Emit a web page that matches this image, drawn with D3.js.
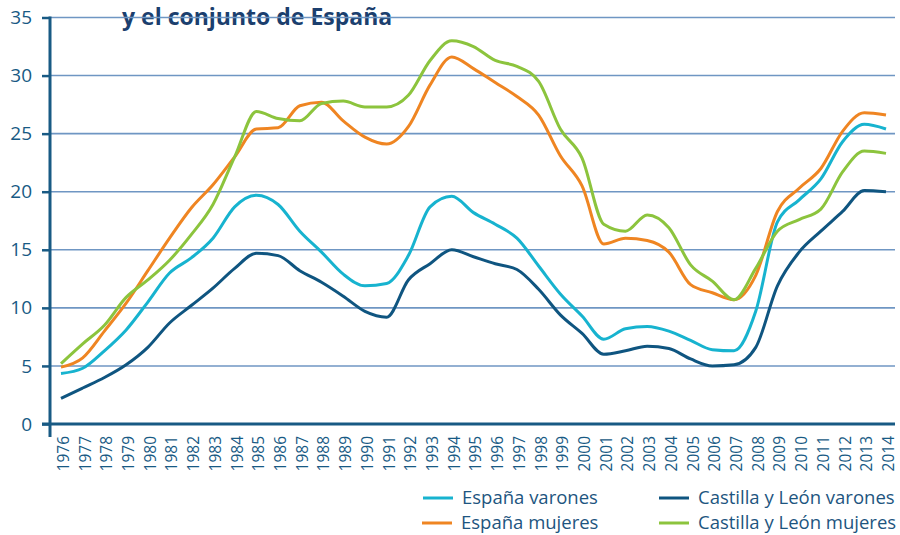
<!DOCTYPE html>
<html>
<head>
<meta charset="utf-8">
<script src="https://cdn.jsdelivr.net/npm/d3@7"></script>
<style>
  body { margin: 0; background: #fff; }
  svg { display: block; }
</style>
</head>
<body>
<script>
// tasa de paro (%) por sexo, Castilla y León vs España
const years = [1976, 1977, 1978, 1979, 1980, 1981, 1982, 1983, 1984, 1985,
  1986, 1987, 1988, 1989, 1990, 1991, 1992, 1993, 1994, 1995,
  1996, 1997, 1998, 1999, 2000, 2001, 2002, 2003, 2004, 2005,
  2006, 2007, 2008, 2009, 2010, 2011, 2012, 2013, 2014];

const espanaVarones = [4.35, 4.8, 6.3, 8.1, 10.5, 13.0, 14.3, 16.0, 18.7, 19.7,
  18.9, 16.6, 14.8, 12.9, 11.9, 12.1, 14.5, 18.7, 19.6, 18.2,
  17.2, 16.0, 13.6, 11.2, 9.3, 7.3, 8.2, 8.4, 8.0, 7.2,
  6.4, 6.3, 9.7, 17.4, 19.3, 21.1, 24.3, 25.8, 25.4];

const espanaMujeres = [4.9, 5.7, 8.0, 10.4, 13.2, 16.0, 18.6, 20.6, 23.0, 25.4,
  25.5, 27.4, 27.7, 26.1, 24.7, 24.1, 25.6, 29.2, 31.6, 30.6,
  29.4, 28.2, 26.6, 23.1, 20.5, 15.5, 16.0, 15.8, 14.8, 12.0,
  11.3, 10.7, 12.8, 18.3, 20.3, 22.0, 25.2, 26.8, 26.6];

const cylVarones = [2.2, 3.1, 4.0, 5.1, 6.6, 8.7, 10.2, 11.7, 13.4, 14.7,
  14.5, 13.2, 12.2, 11.0, 9.7, 9.2, 12.4, 13.8, 15.0, 14.4,
  13.8, 13.3, 11.6, 9.4, 7.8, 6.0, 6.3, 6.7, 6.5, 5.6,
  5.0, 5.1, 6.6, 11.9, 14.8, 16.6, 18.3, 20.1, 20.0];

const cylMujeres = [5.2, 6.9, 8.5, 10.9, 12.4, 14.1, 16.3, 18.9, 23.0, 26.9,
  26.3, 26.1, 27.6, 27.8, 27.3, 27.3, 28.3, 31.3, 33.0, 32.5,
  31.3, 30.8, 29.5, 25.4, 22.9, 17.2, 16.6, 18.0, 16.9, 13.7,
  12.3, 10.7, 13.4, 16.6, 17.6, 18.5, 21.7, 23.5, 23.3];

const yTicks = [0, 5, 10, 15, 20, 25, 30, 35];

const seriesNames = ["España varones", "España mujeres", "Castilla y León varones", "Castilla y León mujeres"];
const seriesColors = ["#17b3cf", "#ef8522", "#0f5580", "#8cc43d"];
const seriesValues = [espanaVarones, espanaMujeres, cylVarones, cylMujeres];

const W = 900, H = 535;
const axisColor = "#185a84";
const gridColor = "#6f96c3";
const font = "'Open Sans', sans-serif";

const svg = d3.select("body").append("svg")
  .attr("width", W)
  .attr("height", H);

const x = d3.scaleLinear().domain([1976, 2014]).range([61, 886]);
const y = d3.scaleLinear().domain([0, 35]).range([424, 17.5]);

// title (cut at the top in the original)
svg.append("text")
  .attr("x", 122)
  .attr("y", 25)
  .attr("font-family", font)
  .attr("font-weight", "bold")
  .attr("font-size", 23)
  .attr("fill", "#1b3f6e")
  .text("y el conjunto de España");

// grid lines
svg.append("g")
  .selectAll("line")
  .data(yTicks.filter(d => d > 0))
  .join("line")
  .attr("x1", 50)
  .attr("x2", 895)
  .attr("y1", d => y(d))
  .attr("y2", d => y(d))
  .attr("stroke", gridColor)
  .attr("stroke-width", 1.6);

// y axis
const yAxis = svg.append("g")
  .attr("transform", "translate(50,0)")
  .call(d3.axisLeft(y).tickValues(yTicks).tickSize(8).tickPadding(10).tickFormat(d3.format("d")));
yAxis.select(".domain").remove();
yAxis.selectAll(".tick line").attr("stroke", axisColor).attr("stroke-width", 2.5);
yAxis.selectAll(".tick text")
  .attr("fill", axisColor)
  .attr("font-family", font)
  .attr("font-size", 19);

svg.append("line")
  .attr("x1", 50).attr("x2", 50)
  .attr("y1", y(35) - 1).attr("y2", 437)
  .attr("stroke", axisColor)
  .attr("stroke-width", 3);

// x axis
const xAxis = svg.append("g")
  .attr("transform", "translate(0,424)")
  .call(d3.axisBottom(x).tickValues(years).tickSize(0).tickFormat(d3.format("d")));
xAxis.select(".domain").remove();
xAxis.selectAll(".tick text")
  .attr("fill", axisColor)
  .attr("font-family", font)
  .attr("font-size", 15.5)
  .attr("text-anchor", "end")
  .attr("transform", "rotate(-90)")
  .attr("x", -12)
  .attr("y", 2)
  .attr("dy", "0.35em");

svg.append("line")
  .attr("x1", 42).attr("x2", 895)
  .attr("y1", 424).attr("y2", 424)
  .attr("stroke", axisColor)
  .attr("stroke-width", 3);

// series lines
const line = d3.line()
  .x((d, i) => x(years[i]))
  .y(d => y(d))
  .curve(d3.curveMonotoneX);

svg.append("g")
  .selectAll("path")
  .data(seriesValues)
  .join("path")
  .attr("d", line)
  .attr("fill", "none")
  .attr("stroke", (d, i) => seriesColors[i])
  .attr("stroke-width", 3)
  .attr("stroke-linejoin", "round");

// legend
const legendPos = [[423, 498], [422, 523], [659, 498], [659, 523]];
const legend = svg.append("g")
  .selectAll("g")
  .data(seriesNames)
  .join("g")
  .attr("transform", (d, i) => `translate(${legendPos[i][0]},${legendPos[i][1]})`);

legend.append("line")
  .attr("x1", 0).attr("x2", 30)
  .attr("stroke", (d, i) => seriesColors[i])
  .attr("stroke-width", 3);

legend.append("text")
  .attr("x", 39)
  .attr("dy", "0.35em")
  .attr("font-family", font)
  .attr("font-size", 18.5)
  .attr("fill", "#1d5580")
  .text(d => d);
</script>
</body>
</html>
